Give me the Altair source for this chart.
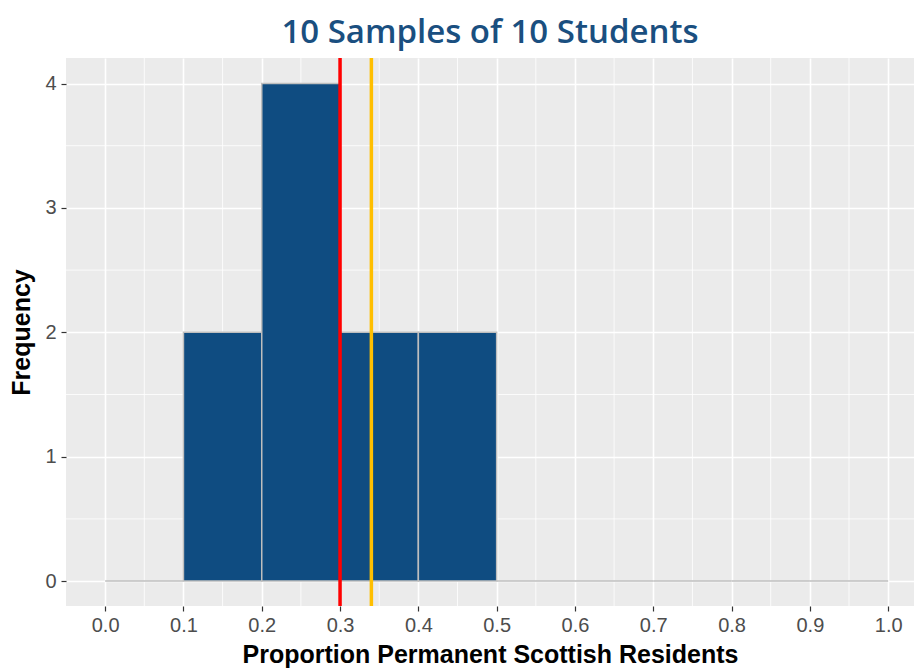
import altair as alt
import pandas as pd

bin_start = [0.0, 0.1, 0.2, 0.3, 0.4, 0.5, 0.6, 0.7, 0.8, 0.9]
bin_end = [0.1, 0.2, 0.3, 0.4, 0.5, 0.6, 0.7, 0.8, 0.9, 1.0]
counts = [0, 2, 4, 2, 2, 0, 0, 0, 0, 0]
vline_x = [0.3, 0.34]
vline_color = ["#FF0000", "#FFBF00"]
x_ticks = [0.0, 0.1, 0.2, 0.3, 0.4, 0.5, 0.6, 0.7, 0.8, 0.9, 1.0]
y_ticks = [0, 1, 2, 3, 4]
x_minor = [0.05, 0.15, 0.25, 0.35, 0.45, 0.55, 0.65, 0.75, 0.85, 0.95]
y_minor = [0.5, 1.5, 2.5, 3.5]

W, H = 848, 548
xscale = alt.Scale(domain=[-0.05, 1.033], nice=False, zero=False)
yscale = alt.Scale(domain=[-0.2, 4.205], nice=False, zero=False)

axis_common = dict(
    grid=True, gridColor="white", gridWidth=1.6, domain=False,
    tickColor="#333333", tickSize=5, tickWidth=1.2,
    labelColor="#4D4D4D", labelFontSize=20, labelFont="Liberation Sans",
    titleFont="Liberation Sans", titleFontSize=25, titleFontWeight="bold",
    titleColor="black",
)

bars_df = pd.DataFrame({"start": bin_start, "end": bin_end, "count": counts})
vl_df = pd.DataFrame({"x": vline_x, "c": vline_color})
xm_df = pd.DataFrame({"x": x_minor})
ym_df = pd.DataFrame({"y": y_minor})

minor_x = alt.Chart(xm_df).mark_rule(color="white", strokeWidth=0.8).encode(
    x=alt.X("x:Q", scale=xscale), y=alt.value(0), y2=alt.value(H)
)
minor_y = alt.Chart(ym_df).mark_rule(color="white", strokeWidth=0.8).encode(
    y=alt.Y("y:Q", scale=yscale), x=alt.value(0), x2=alt.value(W)
)

bars = alt.Chart(bars_df).mark_rect(
    fill="#0F4C81", stroke="#BEBEBE", strokeWidth=1.5
).encode(
    x=alt.X("start:Q", scale=xscale,
            axis=alt.Axis(values=x_ticks, format=".1f",
                          title="Proportion Permanent Scottish Residents",
                          labelPadding=4, titlePadding=7, **axis_common)),
    x2="end:Q",
    y=alt.Y("count:Q", scale=yscale,
            axis=alt.Axis(values=y_ticks, format="d", title="Frequency",
                          labelPadding=5, titlePadding=10, **axis_common)),
    y2=alt.datum(0),
)

vlines = alt.Chart(vl_df).mark_rule(strokeWidth=3.5).encode(
    x=alt.X("x:Q", scale=xscale),
    color=alt.Color("c:N", scale=None),
)

chart = alt.layer(minor_x, minor_y, bars, vlines).properties(
    width=W, height=H,
    autosize=alt.AutoSizeParams(type="none"),
    padding={"left": 58, "top": 50, "right": 0, "bottom": 64},
    title=alt.TitleParams(
        "10 Samples of 10 Students", font="Open Sans", fontSize=33,
        fontWeight=600, color="#1A4F80", anchor="middle", offset=6,
    ),
).configure_view(fill="#EBEBEB", stroke=None)

chart.save("out.html", embed_options={"renderer": "svg", "actions": False})
